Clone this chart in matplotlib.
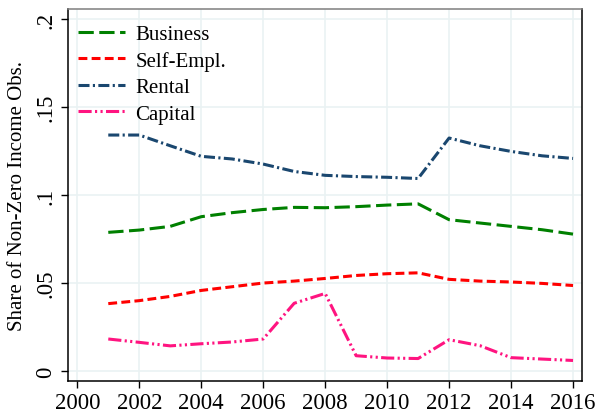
import matplotlib
matplotlib.use("Agg")
import matplotlib.pyplot as plt

years = list(range(2001, 2017))
business = [0.0788, 0.0801, 0.0822, 0.0877, 0.0900, 0.0918, 0.0930, 0.0928,
            0.0934, 0.0943, 0.0950, 0.0860, 0.0841, 0.0822, 0.0803, 0.0778]
self_empl = [0.0383, 0.0400, 0.0424, 0.0458, 0.0479, 0.0500, 0.0511, 0.0526,
             0.0543, 0.0553, 0.0558, 0.0521, 0.0511, 0.0506, 0.0498, 0.0486]
rental = [0.1341, 0.1341, 0.1280, 0.1220, 0.1205, 0.1176, 0.1134, 0.1112,
          0.1105, 0.1101, 0.1094, 0.1324, 0.1280, 0.1248, 0.1223, 0.1208]
capital = [0.0182, 0.0163, 0.0143, 0.0155, 0.0165, 0.0182, 0.0385, 0.0441,
           0.0087, 0.0074, 0.0071, 0.0178, 0.0144, 0.0076, 0.0068, 0.0060]

series_labels = ["Business", "Self-Empl.", "Rental", "Capital"]
x_ticks = list(range(2000, 2017, 2))
y_ticks = [0, 0.05, 0.1, 0.15, 0.2]
y_tick_labels = ["0", ".05", ".1", ".15", ".2"]

plt.rcParams["font.family"] = ["Liberation Serif", "DejaVu Serif"]

fig = plt.figure(figsize=(6.06, 4.14), dpi=100)
ax = fig.add_axes([0.1117, 0.078, 0.9604 - 0.1117, 0.9766 - 0.078])

grid_color = "#eaf2f3"
for xt in x_ticks:
    ax.axvline(xt, color=grid_color, lw=1.2, zorder=0)
for yt in y_ticks:
    ax.axhline(yt, color=grid_color, lw=1.2, zorder=0)

lw = 2.2
ax.plot(years, business, color="#008000", lw=lw, dashes=(5.0, 1.8),
        label=series_labels[0])
ax.plot(years, self_empl, color="#ff0000", lw=lw, dashes=(2.9, 1.4),
        label=series_labels[1])
ax.plot(years, rental, color="#1a476f", lw=lw, dashes=(3.6, 1.1, 0.7, 1.1),
        label=series_labels[2])
ax.plot(years, capital, color="#ff1480", lw=lw,
        dashes=(4.3, 1.1, 0.7, 1.1, 0.7, 1.1), label=series_labels[3])

ax.set_xlim(1999.69, 2016.29)
ax.set_ylim(-0.0055, 0.2059)
ax.set_xticks(x_ticks)
ax.set_yticks(y_ticks)
ax.set_yticklabels(y_tick_labels, rotation=90, va="center")
ax.tick_params(axis="both", direction="out", length=5, width=1,
               labelsize=16.5, color="black")
ax.tick_params(axis="y", pad=3)
ax.tick_params(axis="x", pad=3)

for side in ("left", "bottom", "right"):
    ax.spines[side].set_color("black")
    ax.spines[side].set_linewidth(1.1)
ax.spines["top"].set_color("#7f7f7f")
ax.spines["top"].set_linewidth(1.1)

ax.set_ylabel("Share of Non-Zero Income Obs.", fontsize=15, labelpad=6)

ax.legend(loc="upper left", bbox_to_anchor=(0.0, 0.986), frameon=False,
          fontsize=15, handlelength=2.25, handletextpad=0.5,
          labelspacing=0.33, borderaxespad=0.1)

fig.savefig("out.png", dpi=100, facecolor="white")
